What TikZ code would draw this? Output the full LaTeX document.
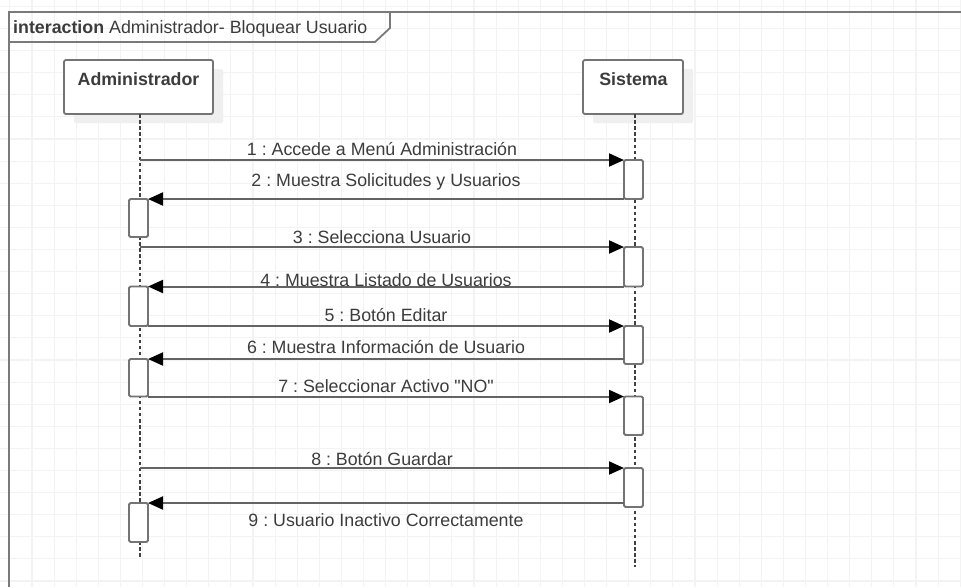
\documentclass[tikz,border=0pt]{standalone}
\usepackage{fontspec}
\setmainfont{Liberation Sans}
\usetikzlibrary{arrows.meta,shadows,calc}
\definecolor{gridc}{HTML}{F3F3F3}
\definecolor{framec}{HTML}{7A7A7A}
\definecolor{linec}{HTML}{646464}
\definecolor{boxc}{HTML}{747474}
\definecolor{textc}{HTML}{3C3C3C}
\definecolor{shadowc}{HTML}{EFEFEF}
\frenchspacing

\tikzset{
  every node/.style={font=\fontsize{17.8}{21}\selectfont, text=textc},
  gridline/.style={draw=gridc, line width=1.1pt},
  framepath/.style={draw=framec, line width=1.8pt},
  headbox/.style={draw=boxc, line width=1.8pt, fill=white, rounded corners=2pt,
    inner sep=0pt, outer sep=0pt, minimum height=54pt,
    drop shadow={shadow xshift=10pt, shadow yshift=-9pt, fill=shadowc, opacity=1}},
  headtext/.style={anchor=base, inner sep=0pt, font=\fontsize{17.8}{21}\selectfont\bfseries},
  lifeline/.style={draw=black!75, line width=1.4pt, dash pattern=on 3.5pt off 2.6pt},
  actbox/.style={draw=boxc, line width=1.8pt, fill=white, rounded corners=1.5pt,
    inner sep=0pt, outer sep=0pt, minimum width=19pt},
  msg/.style={draw=linec, line width=2pt, -{Triangle[length=15pt, width=13pt, color=black]}},
  msglabel/.style={midway, anchor=base, inner sep=0pt},
}

\begin{document}
\begin{tikzpicture}[x=1pt, y=-1pt]
  % canvas
  \fill[white] (0,0) rectangle (961,587);
  \useasboundingbox (0,0) rectangle (961,587);

  % background grid
  \foreach \i in {0,...,43}
    \draw[gridline] ({9.9+22.1*\i},0) -- ({9.9+22.1*\i},587);
  \foreach \j in {0,...,26}
    \draw[gridline] (0,{6.4+22.1*\j}) -- (961,{6.4+22.1*\j});

  % interaction frame and its name tab
  \draw[framepath] (9,587) -- (9,12) -- (961,12);
  \draw[framepath] (9,42) -- (375,42) -- (390,28) -- (390,12);
  \node[anchor=base west, inner sep=0pt] (title) at (13,33)
    {\textbf{interaction} Administrador- Bloquear Usuario};

  % lifeline heads
  \node[headbox, minimum width=149pt] (admin) at (138.5,87) {};
  \node[headtext] (adminT) at (138.5,85) {Administrador};
  \node[headbox, minimum width=100pt] (sys) at (633,87) {};
  \node[headtext] (sysT) at (633.5,85) {Sistema};

  % lifelines
  \coordinate (adminTop) at (140,114);
  \coordinate (adminBot) at (140,559);
  \coordinate (sysTop) at (635,114);
  \coordinate (sysBot) at (635,567);
  \draw[lifeline] (adminTop) -- (adminBot);
  \draw[lifeline] (sysTop) -- (sysBot);

  % activations on Sistema
  \node[actbox, minimum height=39pt]   (A1) at (633.5,179.5) {};
  \node[actbox, minimum height=39.5pt] (A2) at (633.5,266.75) {};
  \node[actbox, minimum height=38pt]   (A3) at (633.5,345) {};
  \node[actbox, minimum height=38.5pt] (A4) at (633.5,415.75) {};
  \node[actbox, minimum height=39pt]   (A5) at (633.5,487.5) {};

  % activations on Administrador
  \node[actbox, minimum height=38pt]   (B1) at (138.5,218) {};
  \node[actbox, minimum height=39.5pt] (B2) at (138.5,306.25) {};
  \node[actbox, minimum height=37.5pt] (B3) at (138.5,377.75) {};
  \node[actbox, minimum height=39pt]   (B4) at (138.5,522.5) {};

  % messages
  \draw[msg] (adminTop |- A1.north) -- (A1.north west)
    node[msglabel, yshift=4.5pt] (m1) {1 : Accede a Menú Administración};
  \draw[msg] (A1.south west) -- (B1.north east)
    node[msglabel, yshift=12.5pt] (m2) {2 : Muestra Solicitudes y Usuarios};
  \draw[msg] (adminTop |- A2.north) -- (A2.north west)
    node[msglabel, yshift=4pt] (m3) {3 : Selecciona Usuario};
  \draw[msg] (A2.south west) -- (B2.north east)
    node[msglabel, yshift=0.5pt] (m4) {4 : Muestra Listado de Usuarios};
  \draw[msg] (B2.south east) -- (A3.north west)
    node[msglabel, yshift=4.5pt] (m5) {5 : Botón Editar};
  \draw[msg] (A3.west |- B3.north) -- (B3.north east)
    node[msglabel, yshift=6pt] (m6) {6 : Muestra Información de Usuario};
  \draw[msg] (B3.south east) -- (A4.north west)
    node[msglabel, yshift=4.5pt] (m7) {7 : Seleccionar Activo \textquotedbl NO\textquotedbl};
  \draw[msg] (adminTop |- A5.north) -- (A5.north west)
    node[msglabel, yshift=3pt] (m8) {8 : Botón Guardar};
  \draw[msg] (A5.west |- B4.north) -- (B4.north east)
    node[msglabel, yshift=-23.5pt] (m9) {9 : Usuario Inactivo Correctamente};
\end{tikzpicture}
\end{document}
